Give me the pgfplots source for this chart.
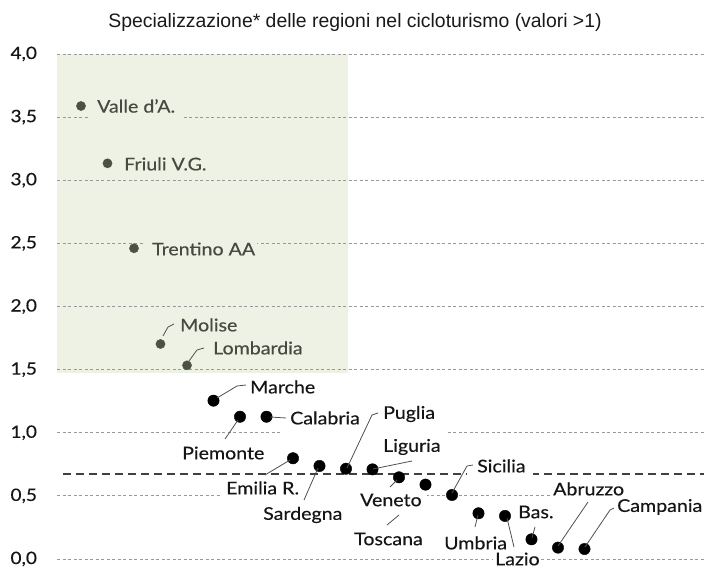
\documentclass[border=0pt]{standalone}
\usepackage{fontspec}
\setmainfont[FakeStretch=1.12, FakeBold=0.35]{Lato}
\newfontfamily\titlefont{Liberation Sans}
\usepackage{pgfplots}
\pgfplotsset{compat=1.18}
\definecolor{greenbg}{HTML}{EEF2E4}
\definecolor{toppt}{HTML}{4B5144}
\definecolor{toplab}{HTML}{464A40}
\definecolor{botlab}{HTML}{151515}
\definecolor{leadc}{HTML}{505050}
\begin{document}
\begin{tikzpicture}
\begin{axis}[
  x=26.5pt, y=126.25pt,
  xmin=0.1, xmax=24.51, ymin=-0.087, ymax=4.05,
  axis line style={draw=none},
  major tick length=0pt,
  xtick=\empty,
  ytick={0,0.5,...,4},
  ymajorgrids=true,
  major grid style={color=black!40, line width=0.9pt, dash pattern=on 3pt off 2.5pt},
  /pgf/number format/.cd, use comma, fixed, fixed zerofill, precision=1, assume math mode=true,
  /pgfplots/.cd,
  yticklabel style={font=\fontsize{17}{20}\selectfont, text=botlab, inner sep=0pt, anchor=east, xshift=-20pt},
  clip=false,
]
\fill[greenbg] (axis cs:0.1,1.47) rectangle (axis cs:11.08,4.0);
\addplot[color=black!40, line width=0.9pt, dash pattern=on 3pt off 2.5pt, no marks] coordinates {(0.1,1.5) (11.08,1.5)};
\addplot[color=black!40, line width=0.9pt, dash pattern=on 3pt off 2.5pt, no marks] coordinates {(0.1,2) (11.08,2)};
\addplot[color=black!40, line width=0.9pt, dash pattern=on 3pt off 2.5pt, no marks] coordinates {(0.1,2.5) (11.08,2.5)};
\addplot[color=black!40, line width=0.9pt, dash pattern=on 3pt off 2.5pt, no marks] coordinates {(0.1,3) (11.08,3)};
\addplot[color=black!40, line width=0.9pt, dash pattern=on 3pt off 2.5pt, no marks] coordinates {(0.1,3.5) (11.08,3.5)};
\addplot[color=black!40, line width=0.9pt, dash pattern=on 3pt off 2.5pt, no marks] coordinates {(0.1,4) (11.08,4)};
\addplot[color=black!75, line width=1.6pt, dash pattern=on 8pt off 5pt, no marks] coordinates {(0.32,0.671) (24.51,0.671)};
\addplot[only marks, mark=*, mark size=4.6pt, color=toppt] coordinates {
(1,3.588) (2,3.134) (3,2.461) (4,1.703) (5,1.534)};
\addplot[only marks, mark=*, mark size=5.7pt, color=black] coordinates {
(6,1.254) (7,1.127) (8,1.127) (9,0.798) (10,0.737) (11,0.715) (12,0.710) (13,0.647) (14,0.589) (15,0.507) (16,0.362) (17,0.341) (18,0.156) (19,0.090) (20,0.079)};
\coordinate (O) at (axis cs:0,0);
\end{axis}
\begin{scope}[shift={(O)}]
\begin{scope}[shift={(-54.5pt,559pt)}, x=1pt, y=-1pt]
% label backgrounds hiding the grid behind the texts
\fill[greenbg] (90,112) rectangle (183,121);
\fill[greenbg] (143,238) rectangle (257,247);
\fill[white] (282,428) rectangle (447,436);
\fill[white] (222,491) rectangle (427,499);
\fill[white] (550,491) rectangle (704,499);
\fill[white] (467,470) rectangle (533,478);
\fill[white] (493,555) rectangle (540,563);
\node[font=\titlefont\fontsize{19.4}{22}\selectfont, text=black!90, inner sep=0pt] at (355,22) {Specializzazione* delle regioni nel cicloturismo (valori >1)};
\tikzset{lab/.style={anchor=west, inner sep=0pt, font=\fontsize{17.5}{20}\selectfont}}
\node[lab, text=toplab] at (97,106) {Valle d'A.};
\node[lab, text=toplab] at (124,164) {Friuli V.G.};
\node[lab, text=toplab] at (152,249) {Trentino AA};
\node[lab, text=toplab] at (180,325) {Molise};
\node[lab, text=toplab] at (213,348) {Lombardia};
\node[lab, text=botlab] at (250,387) {Marche};
\node[lab, text=botlab] at (290,418) {Calabria};
\node[lab, text=botlab] at (182,453) {Piemonte};
\node[lab, text=botlab] at (226,488) {Emilia R.};
\node[lab, text=botlab] at (263,515) {Sardegna};
\node[lab, text=botlab] at (383,414) {Puglia};
\node[lab, text=botlab] at (383,447) {Liguria};
\node[lab, text=botlab] at (360,500) {Veneto};
\node[lab, text=botlab] at (354,539) {Toscana};
\node[lab, text=botlab] at (477,466) {Sicilia};
\node[lab, text=botlab] at (444,543) {Umbria};
\node[lab, text=botlab] at (495,559) {Lazio};
\node[lab, text=botlab] at (518,512) {Bas.};
\node[lab, text=botlab] at (553,489) {Abruzzo};
\node[lab, text=botlab] at (617,507) {Campania};
\tikzset{lead/.style={leadc, line width=0.8pt}}
\draw[lead] (163,336) -- (168,327) -- (174,324);
\draw[lead] (189,361) -- (197,350) -- (204,348);
\draw[lead] (217,398) -- (237,386) -- (246,385);
\draw[lead] (270,417) -- (286,418);
\draw[lead] (238,420) -- (225,439);
\draw[lead] (290,460) -- (265,475);
\draw[lead] (318,468) -- (304,500);
\draw[lead] (347,468) -- (372,415) -- (378,413);
\draw[lead] (373,469) -- (412,461);
\draw[lead] (397,480) -- (390,487);
\draw[lead] (399,515) -- (387,525);
\draw[lead] (452,493) -- (467,466) -- (473,465);
\draw[lead] (478,515) -- (475,527);
\draw[lead] (507,518) -- (514,547);
\draw[lead] (532,538) -- (535,527);
\draw[lead] (558,546) -- (588,502);
\draw[lead] (585,547) -- (610,510) -- (614,508);
\pgfresetboundingbox
\path[use as bounding box] (0,0) rectangle (704,570);
\end{scope}
\end{scope}
\end{tikzpicture}
\end{document}
